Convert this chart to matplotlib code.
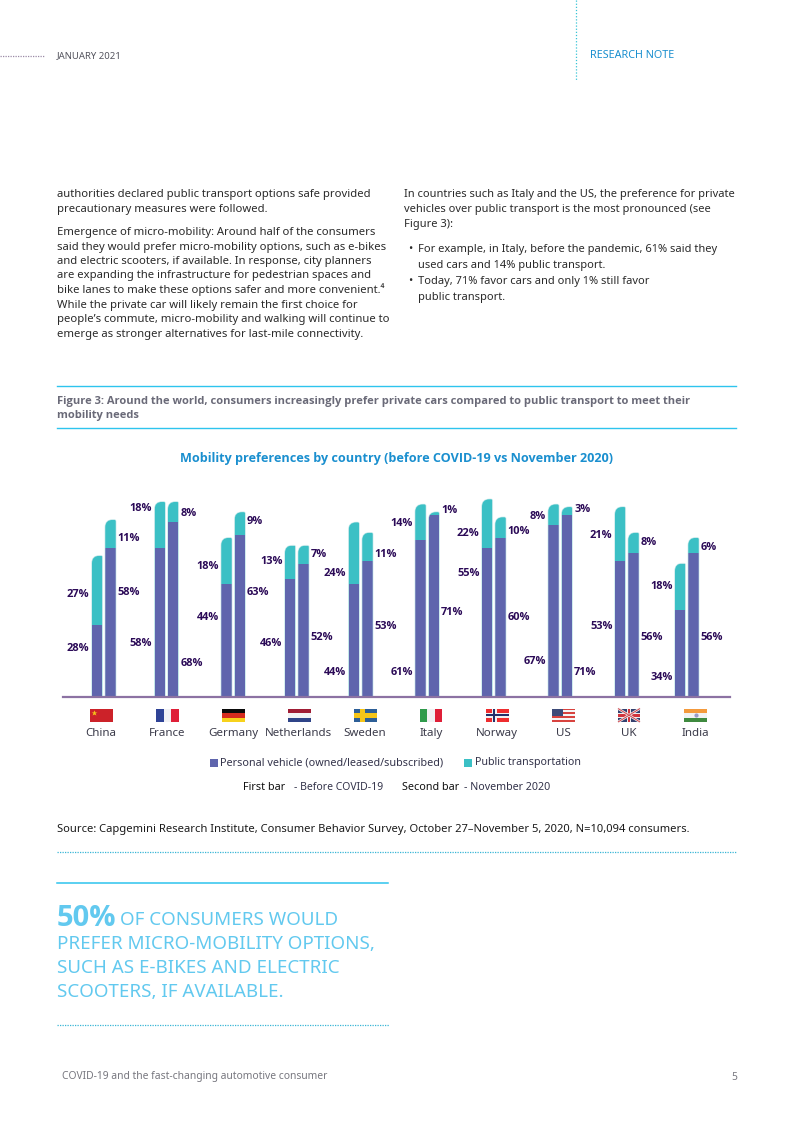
import matplotlib
matplotlib.use('Agg')
import matplotlib.pyplot as plt
from matplotlib.patches import PathPatch, Rectangle
from matplotlib.path import Path

plt.rcParams['font.family'] = ['Noto Sans', 'DejaVu Sans']
BOLD_FONT = ['Open Sans', 'Lato', 'DejaVu Sans']

# data: printed labels
countries = ['China', 'France', 'Germany', 'Netherlands', 'Sweden', 'Italy', 'Norway', 'US', 'UK', 'India']
personal_before = [28, 58, 44, 46, 44, 61, 55, 67, 53, 34]
personal_nov = [58, 68, 63, 52, 53, 71, 60, 71, 56, 56]
public_before = [27, 18, 18, 13, 24, 14, 22, 8, 21, 18]
public_nov = [11, 8, 9, 7, 11, 1, 10, 3, 8, 6]

# data: drawn heights (the Norway bars in the picture do not follow their labels)
bar_personal_before = [28, 58, 44, 46, 44, 61, 58, 67, 53, 34]
bar_personal_nov = [58, 68, 63, 52, 53, 71, 62, 71, 56, 56]
bar_public_before = [27, 18, 18, 13, 24, 14, 19, 8, 21, 18]
bar_public_nov = [11, 8, 9, 7, 11, 1, 8, 3, 8, 6]

# layout, page pixels
first_bar_left = [92, 154.7, 221.3, 285, 348.7, 415.3, 482, 548.3, 615, 675]
second_bar_left = [105.3, 168, 234.7, 298.3, 362.3, 428.7, 495.3, 561.7, 628.3, 688.3]
country_x = [101, 167, 233, 299, 365, 431, 497, 563, 629, 695]
flag_left = [90, 156, 222, 288, 354, 420, 486, 552, 618, 684]
# label y: personal before, personal nov, public before, public nov
ly_pb = [648, 643, 617, 643, 672, 672, 573, 661, 626, 677]
ly_pn = [592, 663, 592, 637, 626, 612, 617, 672, 637, 637]
ly_ub = [594, 508, 566, 561, 573, 523, 533, 516, 535, 586]
ly_un = [538, 513, 521, 554, 554, 510, 531, 509, 542, 547]

W, H = 793, 1122
BAR_W = 10.4
PX_PER_PCT = 2.567
BASE_Y = 697
AX_L, AX_R, AX_TOP = 63, 730, 490

TEAL = '#3bc0c5'
PURPLE = '#5f65ad'
LABEL = '#2b0a57'
BLUE = '#1a8fcf'
CYAN = '#2ec4ee'
LIGHT = '#62c9ef'
GREY = '#55555f'
DARK = '#2a2a2a'

fig = plt.figure(figsize=(W / 100, H / 100), dpi=100)

# page overlay in pixel coordinates
page = fig.add_axes([0, 0, 1, 1])
page.set_xlim(0, W)
page.set_ylim(H, 0)
page.axis('off')

# chart axes: x in page pixels, y in percent
ax = fig.add_axes([AX_L / W, 1 - BASE_Y / H, (AX_R - AX_L) / W, (BASE_Y - AX_TOP) / H])
ax.set_xlim(AX_L, AX_R)
ax.set_ylim(0, (BASE_Y - AX_TOP) / PX_PER_PCT)
ax.patch.set_alpha(0)
for s in ['top', 'left', 'right']:
    ax.spines[s].set_visible(False)
ax.spines['bottom'].set_color('#8c72a3')
ax.spines['bottom'].set_linewidth(1.6)
ax.spines['bottom'].set_zorder(5)
ax.set_xticks([])
ax.set_yticks([])


def column(x0, personal, public):
    total = personal + public
    r = 7.5
    rr = 1.5
    ry = r / PX_PER_PCT
    rry = rr / PX_PER_PCT
    x1 = x0 + BAR_W
    verts = [(x0, 0), (x0, total - ry), (x0, total), (x0 + r, total), (x1 - rr, total),
             (x1, total), (x1, total - rry), (x1, 0), (x0, 0)]
    codes = [Path.MOVETO, Path.LINETO, Path.CURVE3, Path.CURVE3, Path.LINETO,
             Path.CURVE3, Path.CURVE3, Path.LINETO, Path.CLOSEPOLY]
    path = Path(verts, codes)
    # thin pale rim around the bar
    ax.add_patch(PathPatch(path, fc='none', ec='#bfe6e8', lw=0.9, zorder=2))
    clip = PathPatch(path, transform=ax.transData, fc='none', ec='none')
    ax.add_patch(clip)
    b1 = ax.bar(x0, personal, BAR_W, align='edge', color=PURPLE, zorder=3)
    b2 = ax.bar(x0, public, BAR_W, bottom=personal, align='edge', color=TEAL, zorder=3)
    for b in list(b1) + list(b2):
        b.set_clip_path(clip)


LAB = dict(va='center', fontsize=7.9, fontweight='bold', color=LABEL, family=BOLD_FONT)
for i in range(len(countries)):
    column(first_bar_left[i], bar_personal_before[i], bar_public_before[i])
    column(second_bar_left[i], bar_personal_nov[i], bar_public_nov[i])
    lx = first_bar_left[i] - 2.5
    rx = second_bar_left[i] + BAR_W + 2
    page.text(lx, ly_pb[i], f'{personal_before[i]}%', ha='right', **LAB)
    page.text(lx, ly_ub[i], f'{public_before[i]}%', ha='right', **LAB)
    page.text(rx, ly_pn[i], f'{personal_nov[i]}%', ha='left', **LAB)
    page.text(rx, ly_un[i], f'{public_nov[i]}%', ha='left', **LAB)
    page.text(country_x[i], 733.5, countries[i], ha='center', va='center', fontsize=8.3, color='#3b3b4a')


def stripes(x, w, cols, y=708.5, h=13.5, vertical=False):
    n = len(cols)
    for k, c in enumerate(cols):
        if vertical:
            page.add_patch(Rectangle((x + k * w / n, y), w / n, h, fc=c, ec='none'))
        else:
            page.add_patch(Rectangle((x, y + k * h / n), w, h / n, fc=c, ec='none'))


def cross(x, w, bg, c1, c2=None, y=708.5, h=13.5):
    page.add_patch(Rectangle((x, y), w, h, fc=bg, ec='none'))
    cx = x + w * 0.36
    page.add_patch(Rectangle((cx - 2.5, y), 5, h, fc=c1, ec='none'))
    page.add_patch(Rectangle((x, y + h / 2 - 2.5), w, 5, fc=c1, ec='none'))
    if c2:
        page.add_patch(Rectangle((cx - 1.2, y), 2.4, h, fc=c2, ec='none'))
        page.add_patch(Rectangle((x, y + h / 2 - 1.2), w, 2.4, fc=c2, ec='none'))


FW = 23
stripes(flag_left[0], FW, ['#cc2229'])
page.plot([flag_left[0] + 4], [712.5], marker='*', ms=4, color='#f5c518', mec='none')
stripes(flag_left[1], FW, ['#2f4396', '#f1f1f4', '#df1f38'], vertical=True)
stripes(flag_left[2], FW, ['#0a0a0a', '#d52b1e', '#f7d21c'])
stripes(flag_left[3], FW, ['#a01d35', '#f3f3f5', '#2f4488'])
cross(flag_left[4], FW, '#2d5f97', '#f5c518')
stripes(flag_left[5], 22, ['#2f9a4b', '#f1f1f4', '#df1f38'], vertical=True)
cross(flag_left[6], FW, '#ee2d2f', '#f2f2f2', '#23306b')
stripes(flag_left[7], FW, ['#d8433f', '#f6f6f6'] * 3 + ['#d8433f'])
page.add_patch(Rectangle((flag_left[7], 708.5), 11, 7.5, fc='#3d4a78', ec='none'))
# UK
x, y, w, h = flag_left[8], 708.5, 22, 13.5
page.add_patch(Rectangle((x, y), w, h, fc='#34406f', ec='none'))
page.plot([x, x + w], [y, y + h], color='#eeeeee', lw=1.8, solid_capstyle='butt')
page.plot([x, x + w], [y + h, y], color='#eeeeee', lw=1.8, solid_capstyle='butt')
page.plot([x, x + w], [y, y + h], color='#d2444c', lw=0.7, solid_capstyle='butt')
page.plot([x, x + w], [y + h, y], color='#d2444c', lw=0.7, solid_capstyle='butt')
page.add_patch(Rectangle((x + w / 2 - 2.4, y), 4.8, h, fc='#eeeeee', ec='none'))
page.add_patch(Rectangle((x, y + h / 2 - 2.4), w, 4.8, fc='#eeeeee', ec='none'))
page.add_patch(Rectangle((x + w / 2 - 1.3, y), 2.6, h, fc='#d2343c', ec='none'))
page.add_patch(Rectangle((x, y + h / 2 - 1.3), w, 2.6, fc='#d2343c', ec='none'))
stripes(flag_left[9], FW, ['#f49a3c', '#f2f2f4', '#3f8a3f'])
page.plot([flag_left[9] + FW / 2], [715.2], marker='o', ms=3, color='#9a9ac8', mec='none')

# legend
page.add_patch(Rectangle((210, 759), 7.5, 7.5, fc=PURPLE, ec='none'))
page.text(220.5, 762.5, 'Personal vehicle (owned/leased/subscribed)', va='center', fontsize=7.8, color='#33334a')
page.add_patch(Rectangle((464, 759), 7.5, 7.5, fc=TEAL, ec='none'))
page.text(475, 762.5, 'Public transportation', va='center', fontsize=7.7, color='#33334a')
page.text(243, 787, 'First bar', va='center', fontsize=7.8, color='#111111')
page.text(294, 787, '- Before COVID-19', va='center', fontsize=7.5, color='#33334a')
page.text(402, 787, 'Second bar', va='center', fontsize=7.8, color='#111111')
page.text(464, 787, '- November 2020', va='center', fontsize=7.7, color='#33334a')

# header
page.plot([0, 44], [56, 56], color='#9a8aa6', lw=0.9, ls=(0, (1, 1)))
page.text(57, 56, 'JANUARY 2021', va='center', fontsize=6.9, color=GREY)
page.plot([576, 576], [0, 80], color='#38c4d6', lw=0.9, ls=(0, (1, 1.5)))
page.text(590, 55.5, 'RESEARCH NOTE', va='center', fontsize=7.8, color=BLUE)

# body text, left column
left_lines = [
    (194, 'authorities declared public transport options safe provided'),
    (209, 'precautionary measures were followed.'),
    (232, 'Emergence of micro-mobility: Around half of the consumers'),
    (247, 'said they would prefer micro-mobility options, such as e-bikes'),
    (261, 'and electric scooters, if available. In response, city planners'),
    (275, 'are expanding the infrastructure for pedestrian spaces and'),
    (290, 'bike lanes to make these options safer and more convenient.\u2074'),
    (305, 'While the private car will likely remain the first choice for'),
    (319, 'people\u2019s commute, micro-mobility and walking will continue to'),
    (334, 'emerge as stronger alternatives for last-mile connectivity.'),
]
for y, s in left_lines:
    page.text(57, y, s, va='center', fontsize=8.1, color=DARK)

right_lines = [
    (404, 194, 'In countries such as Italy and the US, the preference for private'),
    (404, 209, 'vehicles over public transport is the most pronounced (see'),
    (404, 224, 'Figure 3):'),
    (418, 249.5, 'For example, in Italy, before the pandemic, 61% said they'),
    (418, 265.5, 'used cars and 14% public transport.'),
    (418, 281.5, 'Today, 71% favor cars and only 1% still favor'),
    (418, 297.5, 'public transport.'),
]
for x, y, s in right_lines:
    page.text(x, y, s, va='center', fontsize=8.0, color=DARK)
page.text(408, 249.5, '\u2022', va='center', fontsize=8.0, color=DARK)
page.text(408, 281.5, '\u2022', va='center', fontsize=8.0, color=DARK)

# figure title
page.plot([57, 736], [386, 386], color=CYAN, lw=1)
page.plot([57, 736], [427.5, 427.5], color=CYAN, lw=1)
page.text(57, 401, 'Figure 3: Around the world, consumers increasingly prefer private cars compared to public transport to meet their',
          va='center', fontsize=8.0, fontweight='bold', color='#6a6a78', family=BOLD_FONT)
page.text(57, 415, 'mobility needs', va='center', fontsize=8.0, fontweight='bold', color='#6a6a78', family=BOLD_FONT)
page.text(396.5, 458, 'Mobility preferences by country (before COVID-19 vs November 2020)', ha='center', va='center',
          fontsize=9.05, fontweight='bold', color=BLUE, family=BOLD_FONT)

# source and callout
page.text(57, 829, 'Source: Capgemini Research Institute, Consumer Behavior Survey, October 27\u2013November 5, 2020, N=10,094 consumers.',
          va='center', fontsize=8.05, color='#1a1a1a')
page.plot([57, 737], [851.5, 851.5], color='#38b6d6', lw=0.9, ls=(0, (1, 1)))
page.plot([57, 388], [883, 883], color=CYAN, lw=1.1)
page.text(57, 918, '50%', va='center', fontsize=21, fontweight='bold', color=LIGHT, family=BOLD_FONT)
page.text(120, 920, 'OF CONSUMERS WOULD', va='center', fontsize=13.5, color=LIGHT)
page.text(57, 944, 'PREFER MICRO-MOBILITY OPTIONS,', va='center', fontsize=13.5, color=LIGHT)
page.text(57, 968, 'SUCH AS E-BIKES AND ELECTRIC', va='center', fontsize=13.5, color=LIGHT)
page.text(57, 992, 'SCOOTERS, IF AVAILABLE.', va='center', fontsize=13.5, color=LIGHT)
page.plot([57, 389], [1025, 1025], color='#38b6d6', lw=0.9, ls=(0, (1, 1)))

# footer
page.text(62, 1077, 'COVID-19 and the fast-changing automotive consumer', va='center', fontsize=7.4, color='#77777f')
page.text(737, 1077, '5', va='center', ha='right', fontsize=7.4, color='#77777f')

fig.savefig('out.png', dpi=100)
